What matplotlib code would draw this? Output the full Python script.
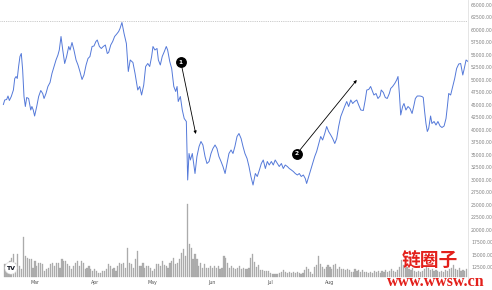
import numpy as np
import pandas as pd
import matplotlib
matplotlib.use('Agg')
import matplotlib.pyplot as plt

# day of year 2021 (Jan 1 = 0) and BTC price
day = [42.6, 43.3, 44.3, 45.0, 45.7, 46.7, 47.8, 48.5, 49.2, 49.8, 50.5, 51.2, 51.9, 52.6, 53.3,
       54.0, 54.7, 55.7, 56.8, 57.4, 58.1, 58.8, 59.9, 60.9, 62.0, 63.0, 63.7, 64.7, 65.7, 66.8,
       67.8, 68.9, 69.9, 70.9, 71.6, 72.5, 73.4, 74.4, 75.4, 76.5, 77.2, 78.2, 79.2, 80.3, 81.3,
       82.3, 83.4, 84.4, 85.5, 86.5, 87.5, 88.6, 89.6, 90.6, 91.3, 92.4, 93.4, 94.4, 95.5, 96.5,
       97.2, 98.3, 99.3, 100.3, 101.4, 102.4, 103.1, 104.1, 105.2, 106.4, 107.4, 108.4, 109.8,
       110.9, 112.3, 113.3, 114.3, 115.4, 116.4, 117.5, 118.5, 119.5, 120.2, 121.2, 122.3, 123.0,
       124.0, 125.0, 126.1, 127.1, 127.8, 128.9, 129.9, 131.0, 132.0, 132.7, 133.3, 134.4, 135.4,
       136.4, 137.5, 137.8, 138.2, 138.9, 139.6, 140.6, 142.0, 143.0, 144.1, 145.1, 146.1, 147.2,
       148.2, 149.3, 150.3, 151.3, 152.4, 153.4, 154.4, 155.5, 156.5, 157.6, 158.6, 159.6, 160.7,
       161.7, 162.7, 163.8, 164.8, 165.9, 166.9, 167.9, 169.0, 170.0, 171.0, 172.1, 173.3, 174.3,
       175.4, 176.4, 177.4, 178.5, 179.5, 180.5, 181.6, 182.6, 183.6, 184.7, 185.7, 186.8, 187.8,
       188.8, 189.9, 190.9, 192.0, 193.0, 194.0, 195.1, 196.1, 197.1, 198.2, 199.2, 199.9, 201.0,
       202.0, 203.0, 204.1, 205.1, 206.2, 207.2, 208.2, 209.3, 210.3, 211.3, 212.4, 213.4, 214.5,
       215.5, 216.5, 217.6, 218.6, 219.6, 220.7, 221.7, 222.8, 223.8, 224.8, 225.9, 226.9, 228.0,
       229.3, 230.3, 231.1, 232.1, 233.1, 233.8, 234.8, 235.9, 236.9, 238.0, 238.6, 239.7, 240.7,
       241.7, 242.8, 243.5, 244.5, 245.6, 246.6, 247.3, 248.0, 248.7, 249.7, 250.4, 251.4, 252.5,
       253.5, 254.6, 255.6, 256.3, 257.3, 258.7, 259.7, 260.4, 261.1, 261.8, 262.5, 263.2, 264.2,
       264.9, 266.0, 267.0, 268.0, 269.1, 270.1, 271.2, 272.2, 272.9, 273.6, 274.6, 275.7, 276.7,
       277.7, 278.8, 279.8, 280.9, 281.5, 282.6, 283.6]
price = [45100, 46000, 46100, 46800, 45900, 46700, 48000, 50300, 50700, 50300, 52700, 54700, 55300,
         52000, 46700, 44700, 46500, 46300, 44000, 44700, 44000, 42800, 44700, 46700, 47900, 47300,
         46300, 47300, 48700, 49500, 51300, 52700, 54000, 55000, 56000, 58700, 56000, 53300, 54700,
         56700, 56000, 57500, 56000, 54000, 53000, 51700, 50100, 51000, 53000, 54300, 54700, 56700,
         56800, 57700, 58000, 56700, 56300, 56700, 57000, 55300, 55500, 57000, 57700, 58700, 59200,
         59700, 60300, 61500, 59300, 57300, 51700, 54000, 53500, 51300, 48000, 48700, 47000, 49000,
         52700, 53300, 52700, 54700, 56700, 56000, 56300, 54000, 53000, 54700, 55700, 56700, 56000,
         53700, 52300, 48700, 47700, 48700, 45700, 46700, 44000, 42300, 41700, 36700, 30000, 35300,
         34000, 35300, 31300, 34700, 36700, 37700, 37000, 34700, 33300, 33700, 35300, 36300, 37000,
         36300, 34700, 33700, 32700, 31300, 33300, 35300, 36000, 35300, 36700, 38700, 39300, 38300,
         36700, 35300, 34300, 32700, 30700, 29000, 31300, 30700, 32000, 33300, 34000, 32300, 33700,
         33000, 33700, 33000, 34000, 33300, 32700, 33300, 32300, 33000, 32700, 32300, 32000, 31700,
         31300, 31000, 31300, 30700, 31000, 30300, 29300, 30700, 32000, 33300, 34700, 35700, 37300,
         38700, 38000, 39300, 40700, 39700, 39000, 38300, 37300, 38300, 40700, 42700, 43700, 44700,
         45700, 44700, 46000, 45300, 45700, 46000, 45000, 44000, 43900, 46000, 48000, 48100, 48700,
         48000, 47000, 47300, 46300, 46800, 48000, 47500, 46500, 46300, 47300, 48300, 48700, 49300,
         50000, 50700, 47300, 43000, 44700, 45300, 44000, 44700, 44300, 43300, 45000, 46300, 46800,
         46800, 46700, 46500, 43700, 41300, 39700, 40300, 42800, 41300, 41700, 41000, 41700, 40800,
         40500, 40800, 42300, 44700, 47300, 47000, 48700, 50300, 52300, 53200, 53300, 51000, 52000,
         54000, 53700]

# daily volume (arbitrary units) from 2021-02-13
vol_first_day = 43
volume = [13, 13, 14, 16, 19, 23, 14, 23, 11, 8,
          40, 21, 19, 18, 18, 9, 16, 11, 14, 14,
          13, 6, 8, 9, 13, 14, 11, 14, 14, 9,
          18, 16, 16, 13, 11, 8, 11, 14, 16, 11,
          16, 14, 8, 9, 11, 8, 6, 8, 6, 4,
          4, 6, 6, 8, 13, 11, 8, 9, 6, 11,
          14, 13, 14, 9, 29, 14, 13, 9, 18, 26,
          11, 11, 14, 9, 11, 11, 9, 6, 8, 13,
          13, 11, 16, 12, 11, 9, 14, 16, 19, 13,
          14, 18, 24, 28, 21, 73, 33, 29, 18, 23,
          18, 11, 14, 9, 13, 9, 9, 11, 9, 11,
          9, 11, 8, 9, 21, 19, 14, 9, 11, 9,
          8, 9, 11, 8, 9, 8, 8, 9, 19, 23,
          15, 10, 12, 7, 7, 6, 6, 6, 4, 3,
          3, 3, 3, 4, 5, 7, 5, 4, 5, 4,
          5, 4, 5, 4, 3, 4, 7, 10, 8, 5,
          3, 10, 12, 21, 13, 10, 8, 10, 12, 10,
          8, 12, 13, 8, 10, 8, 8, 7, 8, 7,
          5, 5, 8, 6, 7, 5, 7, 5, 5, 4,
          5, 4, 6, 5, 6, 4, 6, 5, 7, 5,
          6, 8, 6, 5, 7, 10, 17, 12, 9, 10,
          8, 7, 9, 6, 5, 6, 5, 6, 8, 11,
          9, 7, 8, 6, 7, 6, 5, 6, 5, 7,
          6, 8, 9, 12, 8, 7, 9, 6, 7, 6,
          8]

months = ['Mar', 'Apr', 'May', 'Jun', 'Jul', 'Aug']
month_starts = ['2021-03-01', '2021-04-01', '2021-05-01', '2021-06-01', '2021-07-01', '2021-08-01']
price_ticks = list(range(12500, 65001, 2500))
high_line = 61800

# numbered callouts: (label, circle day, circle price, arrow tip day, arrow tip price)
callouts = [('1', 134.7, 53500, 142.4, 39200),
            ('2', 194.75, 35200, 225.9, 50000)]


def main():
    fig = plt.figure(figsize=(4.92, 2.9), dpi=100)
    ax = fig.add_axes([0, 0.0414, 0.9512, 0.9586])
    vax = ax.twinx()
    vax.set_zorder(0)
    ax.set_zorder(1)
    ax.patch.set_visible(False)

    vdays = vol_first_day + np.arange(len(volume))
    vax.bar(vdays, volume, width=0.6, color='#b0b0b0', edgecolor='#a0a0a0', linewidth=0.2)
    vax.set_ylim(-1, 277)
    vax.axis('off')

    ax.plot(day, price, color='#5479d9', lw=0.7)
    ax.axhline(high_line, color='#b8b8b8', lw=0.6, ls=(0, (1, 1.2)))

    for lab, cx, cy, tx, ty in callouts:
        ax.annotate('', xy=(tx, ty), xytext=(cx, cy),
                    arrowprops=dict(arrowstyle='-|>', color='black', lw=0.6,
                                    mutation_scale=4, shrinkA=4, shrinkB=0))
        ax.plot(cx, cy, 'o', ms=6.8, color='black', zorder=5)
        ax.text(cx, cy, lab, color='white', fontsize=4.2, fontweight='bold',
                ha='center', va='center', zorder=6)

    ax.set_xlim(40.85, 283.6)
    ax.set_ylim(10400, 66000)

    base = pd.Timestamp('2021-01-01')
    ax.set_xticks([(pd.Timestamp(m) - base).days for m in month_starts])
    ax.set_xticklabels(months)
    ax.set_yticks(price_ticks)
    ax.set_yticklabels([f'{v:.2f}' for v in price_ticks])
    ax.yaxis.tick_right()
    ax.tick_params(axis='y', length=0, pad=2.2, labelsize=3.3, labelcolor='#808080')
    ax.tick_params(axis='x', length=0, pad=1.5, labelsize=3.4, labelcolor='#505050')
    for s in ['top', 'left', 'bottom']:
        ax.spines[s].set_visible(False)
    ax.spines['right'].set_color('#e0e0e0')
    ax.spines['right'].set_linewidth(0.6)

    # tradingview badge
    fig.text(11 / 492, 1 - 268 / 290, 'TV', fontsize=4.5, fontweight='bold', color='#131722',
             ha='center', va='center',
             bbox=dict(boxstyle='circle,pad=0.25', fc='white', ec='#e6e6e6', lw=0.4))

    # watermark
    fig.text(430 / 492, 1 - 261 / 290, '链圈子', fontsize=13.5, fontweight='bold', color='#e3201b',
             family=['Noto Sans CJK SC', 'DejaVu Sans'], ha='center', va='center')
    fig.text(436 / 492, 1 - 282 / 290, 'www.wwsw.cn', fontsize=11.5, fontweight='bold',
             color='#e3201b', family='Liberation Serif', ha='center', va='center')

    fig.savefig('out.png', dpi=100, facecolor='white')


if __name__ == '__main__':
    main()
